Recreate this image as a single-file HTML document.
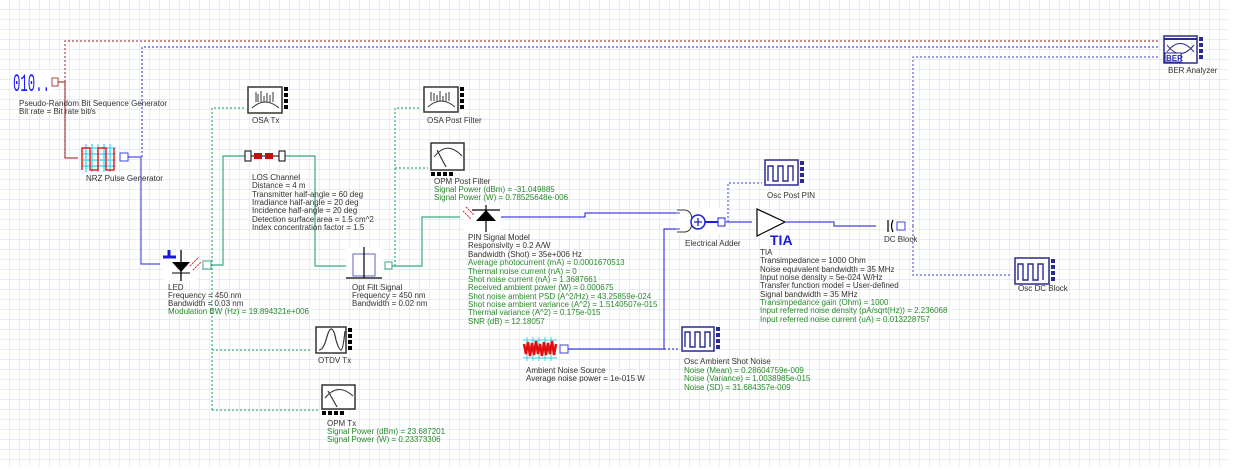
<!DOCTYPE html>
<html><head><meta charset="utf-8"><style>
html,body{margin:0;padding:0;background:#fff;}
svg{display:block;}
text{font-family:"Liberation Sans",sans-serif;font-size:8px;fill:#333;}
.g{fill:#2a8a2a;}
</style></head><body>
<svg width="1236" height="471" viewBox="0 0 1236 471" xmlns="http://www.w3.org/2000/svg">
<defs>
<pattern id="grid" width="10" height="10" patternUnits="userSpaceOnUse">
<path d="M10 0V10H0" fill="none" stroke="#ccdcf4" stroke-width="1"/>
</pattern>
</defs>
<rect width="1236" height="471" fill="#fff"/>
<rect width="1228" height="466" fill="url(#grid)"/>

<g fill="none" stroke-width="1.2">
<path d="M65 158V41H1160" stroke="#b04040" stroke-dasharray="2,2"/>
<path d="M56 82H65V158H78" stroke="#b04040"/>
<path d="M142 157V47H1160" stroke="#5050e0" stroke-dasharray="2,2"/>
<path d="M128 157H141V264H160" stroke="#5050e0"/>
<path d="M211 265H223V156H245" stroke="#3aa880"/>
<path d="M285 156H315V266H347" stroke="#3aa880"/>
<path d="M390 266H422V217H460" stroke="#3aa880"/>
<path d="M212 410V108H246 M212 350H312 M212 410H320" stroke="#3aa880" stroke-dasharray="2,2"/>
<path d="M395 266V108H421 M395 168H428" stroke="#3aa880" stroke-dasharray="2,2"/>
<path d="M500 217H585V213H677" stroke="#4040e0"/>
<path d="M568 349H664V229H677" stroke="#4040e0"/>
<path d="M664 349H680" stroke="#4040e0" stroke-dasharray="2,2"/>
<path d="M705 222H752" stroke="#4040e0"/>
<path d="M728 222V183H762" stroke="#6060e0" stroke-dasharray="2,2"/>
<path d="M786 222H834V226H876" stroke="#4040e0"/>
<path d="M913 226V57H1160 M913 226V275H1012" stroke="#6060e0" stroke-dasharray="2,2"/>
</g>

<!-- PRBS -->
<rect x="12" y="70" width="40" height="24" fill="#fff"/>
<text x="13" y="91" textLength="37" lengthAdjust="spacingAndGlyphs" style="font-size:25px;fill:#1a1aff;font-family:'Liberation Mono',monospace;">010..</text>
<rect x="52" y="78" width="6" height="8" fill="#fff" stroke="#b04040"/>
<text x="19" y="106">Pseudo-Random Bit Sequence Generator</text>
<text x="19" y="114">Bit rate = Bit rate  bit/s</text>

<!-- NRZ -->
<g>
<rect x="81" y="144" width="37" height="28" fill="#fff"/>
<path d="M82 148H116 M82 154H116 M82 160H116 M82 166H116 M86 144V172 M92 144V172 M98 144V172 M104 144V172 M110 144V172" stroke="#30d0f0" stroke-width="1.2"/>
<path d="M82 170V148H90V170H98V148H106V170H114V148" stroke="#e02020" fill="none" stroke-width="1.5"/>
<rect x="120" y="153" width="8" height="8" fill="#fff" stroke="#4040e0"/>
</g>
<text x="86" y="181">NRZ Pulse Generator</text>

<!-- LED -->
<rect x="163" y="250" width="34" height="30" fill="#fff"/>
<path d="M163 257H176 M169 250V257" stroke="#1a1ad0" stroke-width="3"/>
<path d="M181 250V281" stroke="#000" stroke-width="1.3"/>
<path d="M172 262H190L181 272Z" fill="#000"/>
<path d="M172 273H190" stroke="#000"/>
<path d="M190 266L199 257 M193 270L201 262" stroke="#e02020" stroke-dasharray="2,1"/>
<rect x="203" y="261" width="8" height="8" fill="#fff" stroke="#3aa880"/>
<text x="168" y="290">LED</text>
<text x="168" y="298">Frequency = 450  nm</text>
<text x="168" y="306">Bandwidth = 0.03  nm</text>
<text x="168" y="314" class="g">Modulation BW (Hz) = 19.894321e+006</text>

<!-- LOS channel -->
<rect x="245" y="151" width="6" height="10" fill="#fff" stroke="#000"/>
<rect x="279" y="151" width="6" height="10" fill="#fff" stroke="#000"/>
<path d="M251 156H279" stroke="#000"/>
<rect x="254" y="153" width="8" height="6" fill="#c01010"/>
<rect x="265" y="153" width="8" height="6" fill="#c01010"/>
<text x="252" y="180">LOS Channel</text>
<text x="252" y="188">Distance = 4  m</text>
<text x="252" y="197">Transmitter half-angle = 60  deg</text>
<text x="252" y="205">Irradiance half-angle = 20  deg</text>
<text x="252" y="213">Incidence half-angle = 20  deg</text>
<text x="252" y="222">Detection surface area = 1.5  cm^2</text>
<text x="252" y="230">Index concentration factor = 1.5</text>

<!-- Opt Filt -->
<rect x="346" y="247" width="36" height="32" fill="#fff"/>
<rect x="353" y="254" width="22" height="22" fill="none" stroke="#6060c0"/>
<path d="M364 247V278 M346 278H382" stroke="#000" stroke-width="1.2"/>
<rect x="385" y="262" width="7" height="7" fill="#fff" stroke="#3aa880"/>
<text x="352" y="290">Opt Filt Signal</text>
<text x="352" y="298">Frequency = 450  nm</text>
<text x="352" y="306">Bandwidth = 0.02  nm</text>

<!-- OSA Tx -->
<g>
<rect x="248" y="87" width="34" height="26" fill="#fff" stroke="#333" stroke-width="1.5"/>
<path d="M252 108Q265 96 279 108" fill="none" stroke="#333"/>
<path d="M256 102V92 M258 102V94 M261 102V91 M264 102V96 M267 102V93 M270 102V95 M273 102V92" stroke="#333"/>
<rect x="284" y="87" width="4" height="4" fill="#000"/><rect x="284" y="93" width="4" height="4" fill="#000"/><rect x="284" y="99" width="4" height="4" fill="#000"/><rect x="284" y="105" width="4" height="4" fill="#000"/>
</g>
<text x="252" y="123">OSA Tx</text>

<!-- OSA Post Filter -->
<g>
<rect x="424" y="87" width="34" height="25" fill="#fff" stroke="#333" stroke-width="1.5"/>
<path d="M428 107Q441 95 455 107" fill="none" stroke="#333"/>
<path d="M431 101V92 M434 101V93 M437 101V95 M440 101V91 M443 101V96 M446 101V93 M449 101V92" stroke="#333"/>
<rect x="460" y="87" width="4" height="4" fill="#000"/><rect x="460" y="93" width="4" height="4" fill="#000"/><rect x="460" y="99" width="4" height="4" fill="#000"/><rect x="460" y="105" width="4" height="4" fill="#000"/>
</g>
<text x="427" y="123">OSA Post Filter</text>

<!-- OPM Post Filter -->
<g>
<rect x="431" y="143" width="33" height="27" fill="#fff" stroke="#333" stroke-width="1.5"/>
<path d="M434 157Q447 140 462 156" fill="none" stroke="#333"/>
<path d="M437 150L446 167" stroke="#333" stroke-width="1.2"/>
<rect x="431" y="172" width="4" height="4" fill="#000"/><rect x="437" y="172" width="4" height="4" fill="#000"/><rect x="443" y="172" width="4" height="4" fill="#000"/><rect x="449" y="172" width="4" height="4" fill="#000"/>
</g>
<text x="434" y="184">OPM Post Filter</text>
<text x="434" y="192" class="g">Signal Power (dBm) = -31.049885</text>
<text x="434" y="200" class="g">Signal Power (W) = 0.78525648e-006</text>

<!-- PIN -->
<rect x="463" y="205" width="38" height="27" fill="#fff"/>
<path d="M486 205V232 M472 210H500" stroke="#000" stroke-width="1.2"/>
<path d="M476 221H496L486 210Z" fill="#000"/>
<path d="M466 207L474 215 M463 211L471 219" stroke="#e02020" stroke-dasharray="2,1"/>
<text x="468" y="240">PIN Signal Model</text>
<text x="468" y="248">Responsivity = 0.2  A/W</text>
<text x="468" y="257">Bandwidth (Shot) = 35e+006  Hz</text>
<text x="468" y="265" class="g">Average photocurrent (mA) = 0.0001670513</text>
<text x="468" y="274" class="g">Thermal noise current (nA) = 0</text>
<text x="468" y="282" class="g">Shot noise current (nA) = 1.3687661</text>
<text x="468" y="290" class="g">Received ambient power (W) = 0.000675</text>
<text x="468" y="299" class="g">Shot noise ambient PSD (A^2/Hz) = 43.25859e-024</text>
<text x="468" y="307" class="g">Shot noise ambient variance (A^2) = 1.5140507e-015</text>
<text x="468" y="315" class="g">Thermal variance (A^2) = 0.175e-015</text>
<text x="468" y="324" class="g">SNR (dB) = 12.18057</text>

<!-- Electrical Adder -->
<rect x="676" y="208" width="50" height="26" fill="#fff"/>
<path d="M677 210H684Q692 210 692 221Q692 232 684 232H677" fill="none" stroke="#333"/>
<path d="M672 213H680 M672 229H680" stroke="#4040e0"/>
<circle cx="698" cy="222" r="7" fill="#fff" stroke="#2020d0" stroke-width="1.5"/>
<path d="M694 222H702 M698 218V226" stroke="#2020d0" stroke-width="1.3"/>
<path d="M705 222H718" stroke="#2020d0" stroke-width="2"/>
<rect x="718" y="218" width="7" height="8" fill="#fff" stroke="#2020d0"/>
<text x="685" y="246">Electrical Adder</text>

<!-- Osc Post PIN -->
<g>
<rect x="765" y="160" width="33" height="25" fill="#fff" stroke="#2a2a90" stroke-width="1.5"/>
<path d="M768 181V166H773V181H778V166H783V181H788V166H793V181" fill="none" stroke="#2a2a90" stroke-width="1.4"/>
<rect x="800" y="161" width="4" height="4" fill="#2a2a90"/><rect x="800" y="167" width="4" height="4" fill="#2a2a90"/><rect x="800" y="173" width="4" height="4" fill="#2a2a90"/><rect x="800" y="179" width="4" height="4" fill="#2a2a90"/>
</g>
<text x="767" y="198">Osc Post PIN</text>

<!-- TIA -->
<path d="M757 209V236L785 222Z" fill="#fff" stroke="#000" stroke-width="1.2"/>
<text x="770" y="245" style="font-size:14px;font-weight:bold;fill:#1a1ad0;">TIA</text>
<text x="760" y="255">TIA</text>
<text x="760" y="263">Transimpedance = 1000  Ohm</text>
<text x="760" y="272">Noise equivalent bandwidth = 35  MHz</text>
<text x="760" y="280">Input noise density = 5e-024  W/Hz</text>
<text x="760" y="288">Transfer function model = User-defined</text>
<text x="760" y="297">Signal bandwidth = 35  MHz</text>
<text x="760" y="305" class="g">Transimpedance gain (Ohm) = 1000</text>
<text x="760" y="313" class="g">Input referred noise density (pA/sqrt(Hz)) = 2.236068</text>
<text x="760" y="322" class="g">Input referred noise current (uA) = 0.013228757</text>

<!-- DC Block -->
<path d="M888 220V232 M893 220Q890 226 893 232" stroke="#000" fill="none" stroke-width="1.2"/>
<rect x="897" y="222" width="8" height="8" fill="#fff" stroke="#4040e0"/>
<text x="884" y="242">DC Block</text>

<!-- Osc DC Block -->
<g>
<rect x="1015" y="258" width="34" height="26" fill="#fff" stroke="#2a2a90" stroke-width="1.5"/>
<path d="M1018 280V264H1023V280H1028V264H1033V280H1038V264H1043V280" fill="none" stroke="#2a2a90" stroke-width="1.4"/>
<rect x="1051" y="259" width="4" height="4" fill="#2a2a90"/><rect x="1051" y="265" width="4" height="4" fill="#2a2a90"/><rect x="1051" y="271" width="4" height="4" fill="#2a2a90"/><rect x="1051" y="277" width="4" height="4" fill="#2a2a90"/>
</g>
<text x="1018" y="291">Osc DC Block</text>

<!-- BER Analyzer -->
<g>
<rect x="1164" y="36" width="33" height="27" fill="#fff" stroke="#2a2a90" stroke-width="1.5"/>
<path d="M1164 39H1197" stroke="#2a2a90" stroke-width="2"/>
<path d="M1167 52Q1180 35 1194 52 M1167 45Q1180 62 1194 45" fill="none" stroke="#2a2a90"/>
<rect x="1165" y="53" width="16" height="9" fill="#fff" stroke="#2a2a90"/>
<text x="1166" y="61" style="font-size:8px;font-weight:bold;fill:#2a2a90;">BER</text>
<rect x="1199" y="37" width="4" height="4" fill="#2a2a90"/><rect x="1199" y="43" width="4" height="4" fill="#2a2a90"/><rect x="1199" y="49" width="4" height="4" fill="#2a2a90"/><rect x="1199" y="55" width="4" height="4" fill="#2a2a90"/>
</g>
<text x="1168" y="73">BER Analyzer</text>

<!-- OTDV Tx -->
<g>
<rect x="316" y="327" width="30" height="26" fill="#fff" stroke="#333" stroke-width="1.5"/>
<path d="M319 350Q323 350 326 340Q329 329 331 329Q334 329 336 340Q339 350 341 350Q343 350 345 331" fill="none" stroke="#333" stroke-width="1.2"/>
<rect x="348" y="328" width="4" height="4" fill="#000"/><rect x="348" y="334" width="4" height="4" fill="#000"/><rect x="348" y="340" width="4" height="4" fill="#000"/><rect x="348" y="346" width="4" height="4" fill="#000"/>
</g>
<text x="318" y="363">OTDV Tx</text>

<!-- OPM Tx -->
<g>
<rect x="322" y="385" width="33" height="24" fill="#fff" stroke="#333" stroke-width="1.5"/>
<path d="M325 398Q338 382 353 396" fill="none" stroke="#333"/>
<path d="M328 391L337 407" stroke="#333" stroke-width="1.2"/>
<rect x="322" y="411" width="4" height="4" fill="#000"/><rect x="328" y="411" width="4" height="4" fill="#000"/><rect x="334" y="411" width="4" height="4" fill="#000"/><rect x="340" y="411" width="4" height="4" fill="#000"/>
</g>
<text x="327" y="426">OPM Tx</text>
<text x="327" y="434" class="g">Signal Power (dBm) = 23.687201</text>
<text x="327" y="442" class="g">Signal Power (W) = 0.23373306</text>

<!-- Ambient Noise Source -->
<g>
<rect x="523" y="337" width="34" height="24" fill="#fff"/>
<path d="M523 340H557 M523 358H557 M527 337V361 M533 337V361 M539 337V361 M545 337V361 M551 337V361" stroke="#30d0f0"/>
<path d="M524 344L526 354L528 342L530 356L532 343L534 355L536 341L538 354L540 344L542 356L544 342L546 355L548 343L550 354L552 341L554 355L556 344" fill="none" stroke="#e01010" stroke-width="2.5"/>
<rect x="560" y="345" width="8" height="8" fill="#fff" stroke="#4040e0"/>
</g>
<text x="526" y="373">Ambient Noise Source</text>
<text x="526" y="381">Average noise power = 1e-015  W</text>

<!-- Osc Ambient Shot Noise -->
<g>
<rect x="682" y="327" width="32" height="24" fill="#fff" stroke="#2a2a90" stroke-width="1.5"/>
<path d="M685 347V332H690V347H695V332H700V347H705V332H710V347" fill="none" stroke="#2a2a90" stroke-width="1.4"/>
<rect x="716" y="327" width="4" height="4" fill="#2a2a90"/><rect x="716" y="333" width="4" height="4" fill="#2a2a90"/><rect x="716" y="339" width="4" height="4" fill="#2a2a90"/><rect x="716" y="345" width="4" height="4" fill="#2a2a90"/>
</g>
<text x="684" y="364">Osc Ambient Shot Noise</text>
<text x="684" y="373" class="g">Noise (Mean) = 0.28604759e-009</text>
<text x="684" y="381" class="g">Noise (Variance) = 1.0038985e-015</text>
<text x="684" y="390" class="g">Noise (SD) = 31.684357e-009</text>
</svg>
</body></html>
